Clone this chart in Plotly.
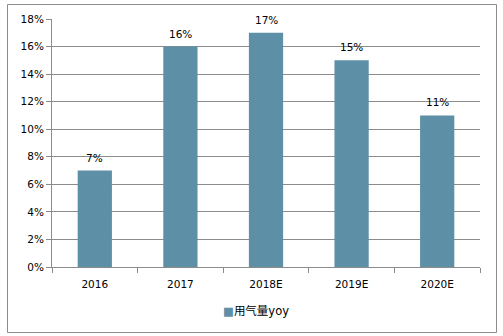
import plotly.graph_objects as go

categories = ["2016", "2017", "2018E", "2019E", "2020E"]
values = [7, 16, 17, 15, 11]
labels = ["7%", "16%", "17%", "15%", "11%"]
series_name = "用气量yoy"
bar_color = "#5d90a7"
tick_vals = [0, 2, 4, 6, 8, 10, 12, 14, 16, 18]
tick_text = [f"{v}%" for v in tick_vals]

W, H = 503, 336
L, R, T, B = 52, 23, 19, 69
pw, ph = W - L - R, H - T - B

font = dict(family="DejaVu Sans, Noto Sans CJK SC", size=10.5, color="#000000")

fig = go.Figure()
fig.add_trace(go.Bar(
    x=categories, y=values, name=series_name,
    marker=dict(color=bar_color, line=dict(width=0)),
    width=0.4,
    showlegend=False,
))

for i, (v, t) in enumerate(zip(values, labels)):
    fig.add_annotation(x=i, y=v, xref="x", yref="y", text=t, showarrow=False,
                       yanchor="bottom", yshift=5, font=font)

def px_x(p):
    return (p - L) / pw

def px_y(p):
    return 1 - (p - T) / ph

fig.add_shape(type="rect", xref="paper", yref="paper",
              x0=px_x(7.5), x1=px_x(496.5), y0=px_y(332.5), y1=px_y(4.5),
              line=dict(color="#8c8c8c", width=1), layer="below")

fig.add_annotation(xref="paper", yref="paper", x=px_x(256), y=px_y(311),
                   xanchor="center", yanchor="middle", showarrow=False,
                   text=f'<span style="color:{bar_color}">■</span>{series_name}',
                   font=dict(family=font["family"], size=11.5, color="#000000"))

fig.update_layout(
    width=W, height=H,
    margin=dict(l=L, r=R, t=T, b=B),
    paper_bgcolor="white", plot_bgcolor="white",
    font=font,
    showlegend=False,
    xaxis=dict(type="category", categoryorder="array", categoryarray=categories,
               range=[-0.5, len(categories) - 0.5],
               showline=True, linecolor="#8c8c8c", linewidth=1,
               ticks="outside", tickson="boundaries", ticklen=5, tickcolor="#8c8c8c",
               tickfont=font, tickangle=0, showgrid=False, ticklabelstandoff=7),
    yaxis=dict(range=[0, 18], tickvals=tick_vals, ticktext=tick_text,
               showline=True, linecolor="#8c8c8c", linewidth=1,
               ticks="outside", ticklen=5, tickcolor="#8c8c8c",
               gridcolor="#8c8c8c", gridwidth=1, zeroline=False,
               tickfont=font),
)

fig.write_html("out.html")
